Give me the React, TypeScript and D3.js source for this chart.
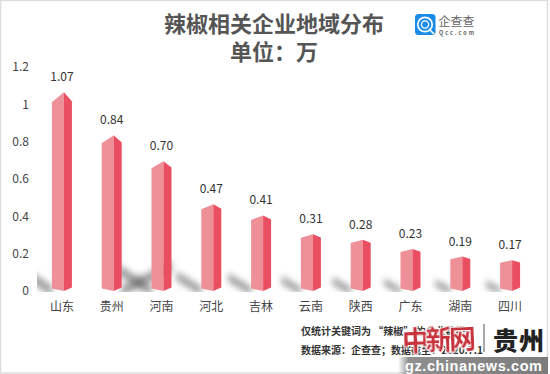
import React from "react";
import * as d3 from "d3";

const categories = ["山东", "贵州", "河南", "河北", "吉林", "云南", "陕西", "广东", "湖南", "四川"];
const values = [1.07, 0.84, 0.7, 0.47, 0.41, 0.31, 0.28, 0.23, 0.19, 0.17];
const valueLabels = ["1.07", "0.84", "0.70", "0.47", "0.41", "0.31", "0.28", "0.23", "0.19", "0.17"];
const yTicks = [0, 0.2, 0.4, 0.6, 0.8, 1, 1.2];
const titleLines = ["辣椒相关企业地域分布", "单位\uFF1A万"];
const noteLines = ["仅统计关键词为 “辣椒” 的企业数据", "数据来源\uFF1A企查查\uFF1B数据截至\uFF1A2020.7.1"];

const sans = "'Noto Sans CJK SC','Noto Sans',sans-serif";
const W = 550, H = 374;
const x = d3.scaleBand<string>().domain(categories).range([37, 535]);
const y = d3.scaleLinear().domain([0, 1.2]).range([291, 67]);
const line = d3.line();

export default function App() {
  return (
    <svg width={W} height={H} viewBox={`0 0 ${W} ${H}`}
      style={{ position: "fixed", left: 0, top: 0, background: "#fff", fontFamily: sans }}>
      <defs>
        <filter id="blur" x="-60%" y="-60%" width="220%" height="220%"><feGaussianBlur stdDeviation="3" /></filter>
        <filter id="soft" x="-5%" y="-5%" width="110%" height="110%"><feGaussianBlur stdDeviation="0.35" /></filter>
        <filter id="wm" x="-5%" y="-5%" width="110%" height="110%"><feGaussianBlur stdDeviation="0.3" /></filter>
        <clipPath id="plot"><rect x={37} y={60} width={500} height={232} /></clipPath>
        <linearGradient id="strip" x1="0" x2="1" y1="0" y2="0">
          <stop offset="0" stopColor="#999" stopOpacity="0" />
          <stop offset="0.07" stopColor="#8f8f8f" />
          <stop offset="1" stopColor="#7c7c7c" />
        </linearGradient>
      </defs>
      <rect x={0.5} y={0.5} width={547} height={372.5} fill="#fff" stroke="#dedede" strokeWidth={1.5} />

      <g textAnchor="middle" fontWeight={700} fontSize={22} fill="#555">
        {titleLines.map((t, i) => <text key={t} x={274} y={32 + i * 27.5}>{t}</text>)}
      </g>

      <g>
        <rect x={415} y={14} width={20.5} height={21} rx={3.5} fill="#1a8be6" />
        <circle cx={425} cy={24.5} r={7.2} fill="none" stroke="#fff" strokeWidth={1.7} />
        <circle cx={425} cy={24.5} r={3.6} fill="none" stroke="#fff" strokeWidth={1.3} />
        <path d="M429 29 L434 34" stroke="#fff" strokeWidth={1.7} />
        <text x={438.5} y={25.5} fontSize={12} fill="#666" textLength={36}>企查查</text>
        <text x={439} y={34.5} fontSize={5.5} fontWeight={700} fill="#666" textLength={35}>Qcc.com</text>
      </g>

      <g fontSize={12} fill="#444" textAnchor="end">
        {yTicks.map(t => <text key={t} x={29} y={y(t) + 4.2}>{d3.format("~g")(t)}</text>)}
      </g>

      <g clipPath="url(#plot)">
        {values.map((v, i) => {
          const c = x(categories[i])! + x.bandwidth() / 2;
          const dir = i === 1 ? 1 : -1;
          const bx = c + (dir > 0 ? 10 : -10);
          const dx = (i === 1 ? 50 : 8 + 36 * v) * dir;
          const dy = 3 + 26 * v;
          const t = 3 + 3.5 * Math.min(v, 0.7);
          return <path key={i} filter="url(#blur)" fill="#444" opacity={0.5}
            d={line([[bx, 291 - t], [bx + dx, 291 - dy - t], [bx + dx, 291 - dy + t], [bx, 291 + t]])!} />;
        })}
      </g>

      <g filter="url(#soft)">
        {values.map((v, i) => {
          const c = x(categories[i])! + x.bandwidth() / 2;
          const l = c - 10, m = c + 2, r = c + 10;
          const top = y(v) + 1;
          const cap = 1 + 8.5 * v;
          return (
            <g key={i}>
              <path fill="#ee9097" d={line([[l, top + cap], [m, top], [m, 291], [l, 288.6]])!} />
              <path fill="#e94f60" d={line([[m, top], [r, top + cap * 0.9], [r, 287.6], [m, 291]])!} />
            </g>
          );
        })}
      </g>

      <g fontSize={12} fill="#333" textAnchor="middle">
        {values.map((v, i) => (
          <text key={i} x={x(categories[i])! + x.bandwidth() / 2} y={y(v) - 10}>{valueLabels[i]}</text>
        ))}
      </g>
      <g fontSize={12} fill="#444" textAnchor="middle">
        {categories.map(c => <text key={c} x={x(c)! + x.bandwidth() / 2} y={310.5}>{c}</text>)}
      </g>

      <g fontSize={10} fontWeight={700} fill="#333">
        {noteLines.map((t, i) => <text key={t} x={301} y={334.5 + i * 19}>{t}</text>)}
      </g>

      <g>
        <rect x={398} y={357} width={150} height={17} fill="url(#strip)" />
        <text x={405} y={370.5} fontSize={14.5} fontWeight={700} fontFamily="'Liberation Sans',sans-serif" fill="#fff" textLength={137}>gz.chinanews.com</text>
        <text x={402} y={350} fontSize={27} fontWeight={700} fill="#c8303a" textLength={74} filter="url(#wm)"
          stroke="#fff" strokeWidth={2} paintOrder="stroke" transform="rotate(-2 440 340)">中新网</text>
        <line x1={484} x2={484} y1={324} y2={352} stroke="#555" strokeWidth={1} />
        <text x={493} y={350} fontSize={25} fontWeight={900} fill="#222" textLength={51}>贵州</text>
      </g>
    </svg>
  );
}
